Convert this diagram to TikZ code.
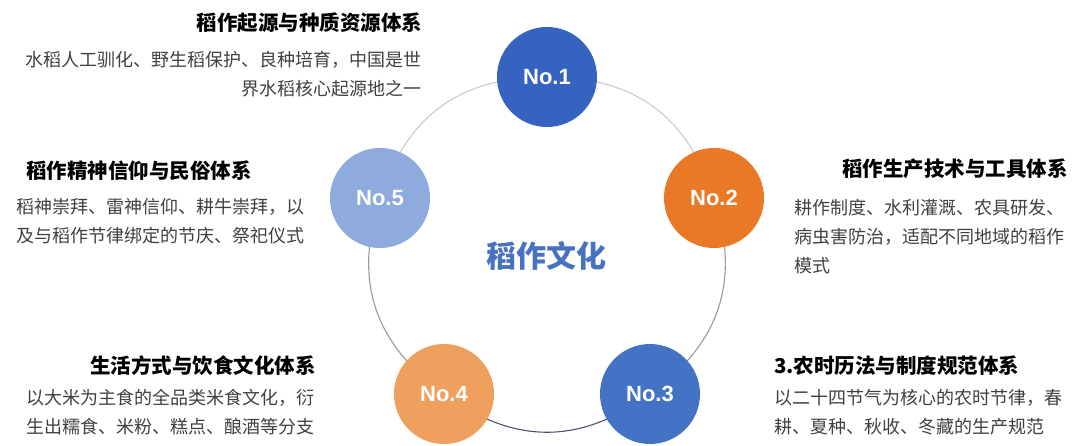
\documentclass[tikz,border=0pt]{standalone}
\usepackage{fontspec}
\setmainfont{Noto Sans CJK SC}
\newfontfamily\numfont{Liberation Sans}
\usetikzlibrary{positioning, backgrounds}

\definecolor{cOne}{RGB}{54,99,192}
\definecolor{cTwo}{RGB}{233,121,38}
\definecolor{cThree}{RGB}{68,114,196}
\definecolor{cFour}{RGB}{240,160,94}
\definecolor{cFive}{RGB}{143,170,220}
\definecolor{coreblue}{RGB}{72,114,192}
\definecolor{ringlight}{RGB}{200,202,206}
\definecolor{ringmid}{RGB}{150,154,162}
\definecolor{ringdark}{RGB}{78,84,104}

\begin{document}
\begin{tikzpicture}[x=1pt, y=-1pt,
  num/.style={circle, minimum size=100pt, inner sep=0pt, text=white,
              font=\numfont\bfseries\fontsize{22}{26}\selectfont},
  ttl/.style={font=\bfseries\fontsize{20.5}{24}\selectfont, inner sep=0pt},
  desc/.style={font=\fontsize{18}{29}\selectfont, text=black!75, inner sep=0pt},
  ring/.style={line width=1.1pt, bend left=36, looseness=1.08},
  core/.style={font=\bfseries\fontsize{30}{36}\selectfont, text=coreblue},
]
\useasboundingbox (0,0) rectangle (1080,446);

% ---- Numbered circles (pentagon) ----
\node[num, fill=cOne]   (n1) at (547,77)  {No.1};
\node[num, fill=cTwo]   (n2) at (714,198) {No.2};
\node[num, fill=cThree] (n3) at (650,394) {No.3};
\node[num, fill=cFour]  (n4) at (444,394) {No.4};
\node[num, fill=cFive]  (n5) at (380,198) {No.5};

% ---- Ring between circles (behind them) ----
\begin{scope}[on background layer]
  \draw[ring, ringlight] (n1.center) to (n2.center);
  \draw[ring, ringmid]   (n2.center) to (n3.center);
  \draw[ring, ringdark]  (n3.center) to (n4.center);
  \draw[ring, ringmid]   (n4.center) to (n5.center);
  \draw[ring, ringlight] (n5.center) to (n1.center);
\end{scope}

% ---- Centre ----
\node[core] (hub) at (546,256) {稻作文化};

% ---- No.1 text ----
\node[ttl, anchor=base east] (t1) at (422.5,30.5) {稻作起源与种质资源体系};
\node[desc, anchor=base east, align=right] (b1) at (422,95.5)
  {水稻人工驯化、野生稻保护、良种培育，中国是世\\界水稻核心起源地之一};

% ---- No.2 text ----
\node[ttl, anchor=base east] (t2) at (1068,176.5) {稻作生产技术与工具体系};
\node[desc, anchor=base west, align=left] (b2) at (794,273)
  {耕作制度、水利灌溉、农具研发、\\病虫害防治，适配不同地域的稻作\\模式};

% ---- No.3 text ----
\node[ttl, anchor=base west] (t3) at (774,373.5) {3.农时历法与制度规范体系};
\node[desc, anchor=base west, align=left] (b3) at (774,434)
  {以二十四节气为核心的农时节律，春\\耕、夏种、秋收、冬藏的生产规范};

% ---- No.4 text ----
\node[ttl, anchor=base east] (t4) at (316,373.5) {生活方式与饮食文化体系};
\node[desc, anchor=base west, align=left] (b4) at (26,433.5)
  {以大米为主食的全品类米食文化，衍\\生出糯食、米粉、糕点、酿酒等分支};

% ---- No.5 text ----
\node[ttl, anchor=base west] (t5) at (26,178.5) {稻作精神信仰与民俗体系};
\node[desc, anchor=base west, align=left] (b5) at (16,243)
  {稻神崇拜、雷神信仰、耕牛崇拜，以\\及与稻作节律绑定的节庆、祭祀仪式};

\end{tikzpicture}
\end{document}
